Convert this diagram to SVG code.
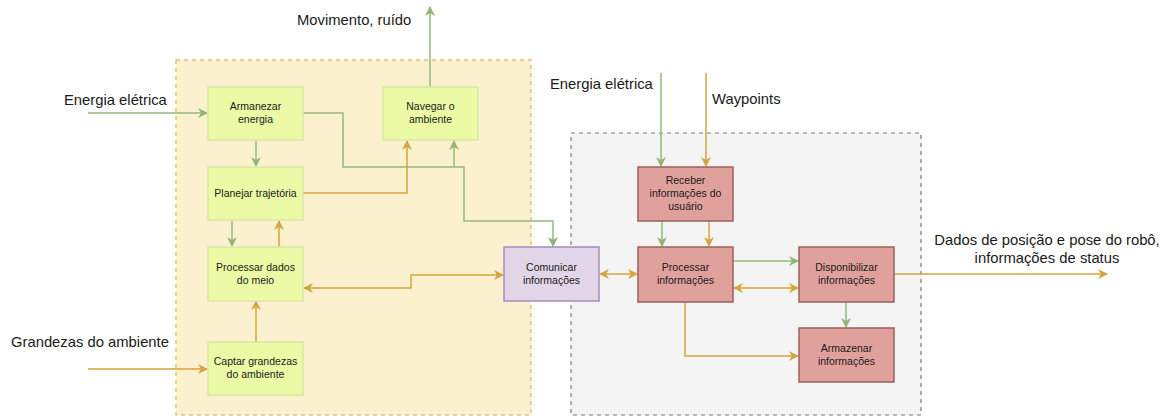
<svg xmlns="http://www.w3.org/2000/svg" width="1168" height="416" viewBox="0 0 1168 416">
<style>
  text { font-family: "Liberation Sans", Arial, sans-serif; fill: #1a1a1a; }
  .lbl { font-size: 14.8px; }
  .nt { font-size: 10.5px; text-anchor: middle; }
  .g { fill: #ecfaa6; stroke: #d8e8a2; stroke-width: 1.5; }
  .r { fill: #e0a19d; stroke: #9b605c; stroke-width: 1.5; }
  .p { fill: #e1d5e7; stroke: #a58cc0; stroke-width: 1.5; }
  .cg { fill: none; stroke: #95b97a; stroke-width: 1.5; }
  .co { fill: none; stroke: #d5a43c; stroke-width: 1.5; }
</style>
<defs>
  <marker id="ag" viewBox="0 0 10 10" refX="9" refY="5" markerWidth="10" markerHeight="10" markerUnits="userSpaceOnUse" orient="auto-start-reverse">
    <path d="M0,0 L10,5 L0,10 L3,5 Z" fill="#8fb573"/>
  </marker>
  <marker id="ao" viewBox="0 0 10 10" refX="9" refY="5" markerWidth="10" markerHeight="10" markerUnits="userSpaceOnUse" orient="auto-start-reverse">
    <path d="M0,0 L10,5 L0,10 L3,5 Z" fill="#d5a43c"/>
  </marker>
</defs>

<g id="containers">
  <rect x="176" y="60" width="355" height="355" fill="#fbf1cf" stroke="#dcc578" stroke-width="1.5" stroke-dasharray="4 4"/>
  <rect x="571" y="133" width="350" height="282" fill="#f4f4f4" stroke="#777" stroke-width="1.2" stroke-dasharray="4 4"/>
</g>

<g id="connectors">
  <path class="cg" d="M88,113 H207" marker-end="url(#ag)"/>
  <path class="cg" d="M430,87 V7" marker-end="url(#ag)"/>
  <path class="cg" d="M256,140 V166" marker-end="url(#ag)"/>
  <path class="cg" d="M303,113 H343 V167 H464 V221 H553 V246" marker-end="url(#ag)"/>
  <path class="cg" d="M454,167 V141" marker-end="url(#ag)"/>
  <path class="co" d="M303,193 H407 V141" marker-end="url(#ao)"/>
  <path class="cg" d="M232,220 V246" marker-end="url(#ag)"/>
  <path class="co" d="M279,247 V221" marker-end="url(#ao)"/>
  <path class="co" d="M256,342 V301" marker-end="url(#ao)"/>
  <path class="co" d="M88,369 H207" marker-end="url(#ao)"/>
  <path class="co" d="M304,288 H411 V275 H503" marker-start="url(#ao)" marker-end="url(#ao)"/>
  <path class="co" d="M600,274 H637" marker-start="url(#ao)" marker-end="url(#ao)"/>
  <path class="cg" d="M661,73 V166" marker-end="url(#ag)"/>
  <path class="co" d="M706,73 V166" marker-end="url(#ao)"/>
  <path class="cg" d="M662,221 V246" marker-end="url(#ag)"/>
  <path class="co" d="M709,221 V246" marker-end="url(#ao)"/>
  <path class="cg" d="M733,261 H798" marker-end="url(#ag)"/>
  <path class="co" d="M734,288 H798" marker-start="url(#ao)" marker-end="url(#ao)"/>
  <path class="co" d="M894,274 H1107" marker-end="url(#ao)"/>
  <path class="cg" d="M846,302 V327" marker-end="url(#ag)"/>
  <path class="co" d="M685,302 V356 H798" marker-end="url(#ao)"/>
</g>

<g id="labels">
  <text class="lbl" x="64" y="105">Energia elétrica</text>
  <text class="lbl" x="297" y="25">Movimento, ruído</text>
  <text class="lbl" x="11" y="347">Grandezas do ambiente</text>
  <text class="lbl" x="550" y="89">Energia elétrica</text>
  <text class="lbl" x="712" y="104">Waypoints</text>
  <text class="lbl" x="1047" y="245" text-anchor="middle">Dados de posição e pose do robô,</text>
  <text class="lbl" x="1047" y="263" text-anchor="middle">informações de status</text>
</g>

<g id="n-armazenar-energia">
  <rect class="g" x="208" y="87" width="95" height="53"/>
  <text class="nt" x="255.5" y="110">Armanezar</text>
  <text class="nt" x="255.5" y="123">energia</text>
</g>
<g id="n-navegar">
  <rect class="g" x="383" y="87" width="95" height="53"/>
  <text class="nt" x="430.5" y="110">Navegar o</text>
  <text class="nt" x="430.5" y="123">ambiente</text>
</g>
<g id="n-planejar">
  <rect class="g" x="208" y="167" width="95" height="53"/>
  <text class="nt" x="255.5" y="197">Planejar trajetória</text>
</g>
<g id="n-processar-dados">
  <rect class="g" x="208" y="247" width="95" height="54"/>
  <text class="nt" x="255.5" y="271">Processar dados</text>
  <text class="nt" x="255.5" y="284">do meio</text>
</g>
<g id="n-captar">
  <rect class="g" x="208" y="342" width="95" height="53"/>
  <text class="nt" x="255.5" y="365">Captar grandezas</text>
  <text class="nt" x="255.5" y="378">do ambiente</text>
</g>
<g id="n-comunicar">
  <rect class="p" x="504" y="247" width="95" height="54"/>
  <text class="nt" x="551.5" y="271">Comunicar</text>
  <text class="nt" x="551.5" y="284">informações</text>
</g>
<g id="n-receber">
  <rect class="r" x="638" y="167" width="95" height="54"/>
  <text class="nt" x="685.5" y="184">Receber</text>
  <text class="nt" x="685.5" y="197">informações do</text>
  <text class="nt" x="685.5" y="210">usuário</text>
</g>
<g id="n-processar-info">
  <rect class="r" x="638" y="247" width="95" height="55"/>
  <text class="nt" x="685.5" y="271">Processar</text>
  <text class="nt" x="685.5" y="284">informações</text>
</g>
<g id="n-disponibilizar">
  <rect class="r" x="799" y="247" width="95" height="55"/>
  <text class="nt" x="846.5" y="271">Disponibilizar</text>
  <text class="nt" x="846.5" y="284">informações</text>
</g>
<g id="n-armazenar-info">
  <rect class="r" x="799" y="328" width="95" height="54"/>
  <text class="nt" x="846.5" y="352">Armazenar</text>
  <text class="nt" x="846.5" y="365">informações</text>
</g>
</svg>
